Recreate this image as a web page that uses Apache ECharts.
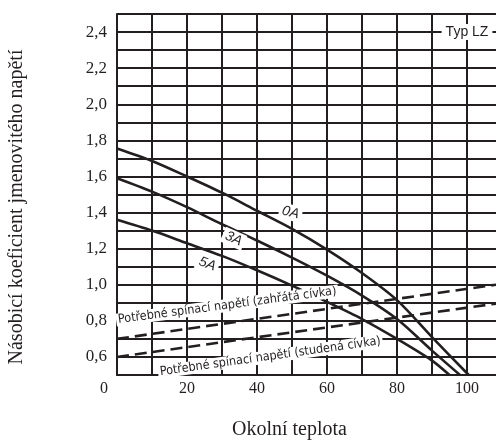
<!DOCTYPE html>
<html>
<head>
<meta charset="utf-8">
<script src="https://cdn.jsdelivr.net/npm/echarts@6/dist/echarts.min.js"></script>
<style>
html,body{margin:0;padding:0;background:#fff;}
#chart{width:496px;height:444px;}
</style>
</head>
<body>
<div id="chart"></div>
<script>
// ---- data ----
const xTickLabels = [0, 20, 40, 60, 80, 100];
const yTickLabels = [0.6, 0.8, 1.0, 1.2, 1.4, 1.6, 1.8, 2.0, 2.2, 2.4];

const t0A = [0, 10, 20, 30, 40, 50, 60, 70, 80, 90, 100.5];
const v0A = [1.755, 1.686, 1.600, 1.510, 1.410, 1.310, 1.195, 1.065, 0.915, 0.710, 0.500];
const t3A = [0, 10, 20, 30, 40, 50, 60, 70, 80, 90, 98];
const v3A = [1.590, 1.516, 1.430, 1.335, 1.245, 1.150, 1.050, 0.940, 0.810, 0.635, 0.500];
const t5A = [0, 10, 20, 30, 40, 50, 60, 70, 80, 90, 95];
const v5A = [1.360, 1.300, 1.230, 1.160, 1.080, 0.995, 0.905, 0.810, 0.700, 0.580, 0.500];

const tHot = [0, 110];
const vHot = [0.70, 1.005];
const tCold = [0, 110];
const vCold = [0.60, 0.90];

const curveNames = ['0A', '3A', '5A'];
const curveLabelAt = [[49.6, 1.40], [33.3, 1.255], [25.8, 1.115]];
const hotLabel = 'Potřebné spínací napětí (zahřátá cívka)';
const hotLabelAt = [31.5, 0.885];
const coldLabel = 'Potřebné spínací napětí (studená cívka)';
const coldLabelAt = [43.8, 0.602];
const typeLabel = 'Typ LZ';
const typeLabelAt = [100, 2.4];
const xTitle = 'Okolní teplota';
const yTitle = 'Násobicí koeficient jmenovitého napětí';

// ---- build ----
const ink = '#231f20';
const zip = (a, b) => a.map((v, i) => [v, b[i]]);

const chart = echarts.init(document.getElementById('chart'), null, {renderer: 'canvas'});

function curve(t, v) {
  return {
    type: 'line', data: zip(t, v), showSymbol: false, smooth: 0.3,
    lineStyle: {color: ink, width: 2.6}, z: 5, silent: true
  };
}
function dashed(t, v) {
  return {
    type: 'line', data: zip(t, v), showSymbol: false,
    lineStyle: {color: ink, width: 2.6, type: [12, 6]}, z: 5, silent: true
  };
}
function textMark(text, at, lbl) {
  return {
    type: 'scatter', symbolSize: 0, silent: true, z: 10,
    itemStyle: {opacity: 1},
    emphasis: {disabled: true},
    data: [{value: at}],
    label: Object.assign({
      show: true, position: 'inside', formatter: text, color: ink, opacity: 1,
      backgroundColor: '#fff'
    }, lbl)
  };
}

const narrow = '"DejaVu Sans Condensed", "Liberation Sans Narrow", "Liberation Sans"';
const rotations = [-14, -24, -20];
const series = [
  curve(t0A, v0A), curve(t3A, v3A), curve(t5A, v5A),
  dashed(tHot, vHot), dashed(tCold, vCold)
];
curveNames.forEach((n, i) => {
  series.push(textMark(n, curveLabelAt[i], {
    fontFamily: 'Liberation Sans', fontStyle: 'italic', fontSize: 14,
    rotate: rotations[i], padding: [1, 3]
  }));
});
series.push(textMark(hotLabel, hotLabelAt, {
  fontFamily: narrow, fontSize: 12.5, rotate: 7.5, padding: [0, 2]
}));
series.push(textMark(coldLabel, coldLabelAt, {
  fontFamily: narrow, fontSize: 12.5, rotate: 8, padding: [0, 2]
}));
series.push(textMark(typeLabel, typeLabelAt, {
  fontFamily: 'Liberation Sans', fontSize: 14, padding: [1, 4]
}));

const option = {
  animation: false,
  backgroundColor: '#fff',
  grid: {left: 117, top: 14, width: 385, height: 361, containLabel: false, outerBoundsMode: 'none'},
  xAxis: {
    type: 'value', min: 0, max: 110, interval: 10,
    axisLine: {show: true, lineStyle: {color: ink, width: 2}},
    axisTick: {show: false},
    splitLine: {show: true, lineStyle: {color: ink, width: 2}},
    axisLabel: {
      margin: 6, color: ink, fontFamily: 'Liberation Serif', fontSize: 16,
      showMaxLabel: false,
      formatter: v => {
        if (!xTickLabels.includes(v)) return '';
        return v === 0 ? '{z|0}' : String(v);
      },
      rich: {z: {fontFamily: 'Liberation Serif', fontSize: 16, color: ink, padding: [0, 26, 0, 0]}}
    }
  },
  yAxis: {
    type: 'value', min: 0.5, max: 2.5, interval: 0.1,
    axisLine: {show: true, lineStyle: {color: ink, width: 2}},
    axisTick: {show: false},
    splitLine: {show: true, lineStyle: {color: ink, width: 2}},
    axisLabel: {
      margin: 10, color: ink, fontFamily: 'Liberation Serif', fontSize: 17,
      formatter: v => {
        const r = Math.round(v * 10) / 10;
        if (!yTickLabels.some(t => Math.abs(t - r) < 1e-6)) return '';
        return r.toFixed(1).replace('.', ',');
      }
    }
  },
  graphic: [
    {type: 'text', x: 289.5, y: 430, silent: true,
     style: {text: xTitle, font: '20px "Liberation Serif"', fill: ink, align: 'center', verticalAlign: 'middle'}},
    {type: 'text', x: 17, y: 207, rotation: Math.PI / 2, silent: true,
     style: {text: yTitle, font: '20px "Liberation Serif"', fill: ink, align: 'center', verticalAlign: 'middle'}}
  ],
  series: series
};
chart.setOption(option);
</script>
</body>
</html>
